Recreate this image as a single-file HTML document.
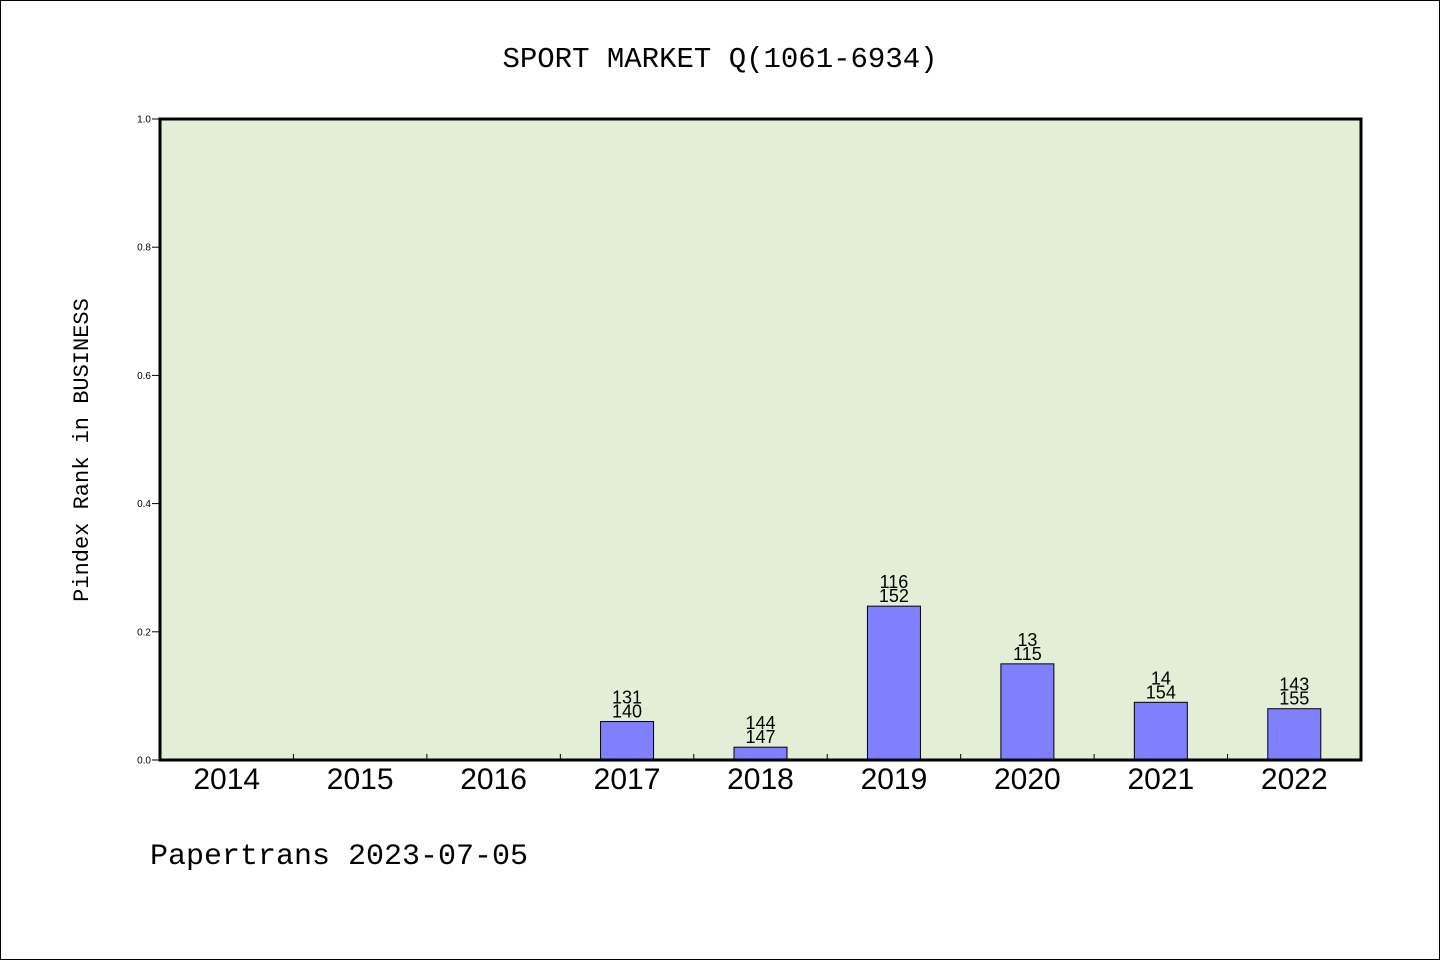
<!DOCTYPE html>
<html><head><meta charset="utf-8"><style>
html,body{margin:0;padding:0;background:#fff}
svg{display:block}
text{font-family:"Liberation Sans","WenQuanYi Zen Hei",sans-serif;fill:#000}
.mono{font-family:"Liberation Mono","WenQuanYi Zen Hei",monospace}
</style></head><body>
<svg id="chart" width="1440" height="960" viewBox="0 0 1440 960" xmlns="http://www.w3.org/2000/svg">
<rect x="0.5" y="0.5" width="1439" height="959" fill="#fff" stroke="#000"/>
<text class="mono" x="720" y="67" font-size="29" text-anchor="middle">SPORT MARKET Q(1061-6934)</text>
<rect x="160" y="119" width="1201" height="641" fill="#e2efd6"/>
<g id="bars"></g>
<g id="ticks"></g>
<rect x="160" y="119" width="1201" height="641" fill="none" stroke="#000" stroke-width="3"/>
<text class="mono" transform="translate(88,450) rotate(-90)" font-size="22" text-anchor="middle">Pindex Rank in BUSINESS</text>
<text class="mono" x="150" y="864" font-size="30">Papertrans 2023-07-05</text>
</svg>
<script>
const categories = ["2014","2015","2016","2017","2018","2019","2020","2021","2022"];
const values = [0,0,0,0.06,0.02,0.24,0.15,0.09,0.08];
const labelTop = ["","","","131","144","116","13","14","143"];
const labelBottom = ["","","","140","147","152","115","154","155"];
const yTicks = [0,0.2,0.4,0.6,0.8,1.0];
const yTickLabels = ["0.0","0.2","0.4","0.6","0.8","1.0"];

const NS="http://www.w3.org/2000/svg";
const X0=160,X1=1361,Y0=760,Y1=119;
const bw=(X1-X0)/categories.length;
const xc=i=>X0+bw*(i+0.5);
const y=v=>Y0-(v-0)/(1-0)*(Y0-Y1);
function mk(t,a,p){const e=document.createElementNS(NS,t);for(const k in a)e.setAttribute(k,a[k]);p.appendChild(e);return e;}
const bars=document.getElementById('bars'),ticks=document.getElementById('ticks');
categories.forEach((c,i)=>{
  if(values[i]>0){
    const r=mk('rect',{x:xc(i)-26.5,y:y(values[i]),width:53,height:Y0-y(values[i]),fill:'#8080ff',stroke:'#000','stroke-width':1},bars);
    
    
    const t1=mk('text',{x:xc(i),y:y(values[i])-18,'font-size':18,'text-anchor':'middle'},bars);
    t1.textContent=labelTop[i];
    
    
    const t2=mk('text',{x:xc(i),y:y(values[i])-4,'font-size':18,'text-anchor':'middle'},bars);
    t2.textContent=labelBottom[i];
    
    
  }
  const xl=mk('text',{x:xc(i),y:789,'font-size':30,'text-anchor':'middle'},ticks);
  xl.textContent=c;
  
  
  if(i>0){
    const tl=mk('line',{x1:X0+bw*i,x2:X0+bw*i,y1:Y0,y2:Y0-6,stroke:'#000','stroke-width':1},ticks);
    
    
  }
});
yTicks.forEach((v,i)=>{
  const l=mk('line',{x1:152,x2:160,y1:y(v),y2:y(v),stroke:'#000','stroke-width':1},ticks);
  
  
  const t=mk('text',{x:151,y:y(v)+3.5,'font-size':10,'text-anchor':'end'},ticks);
  t.textContent=yTickLabels[i];
  
  
});
</script>
</body></html>
